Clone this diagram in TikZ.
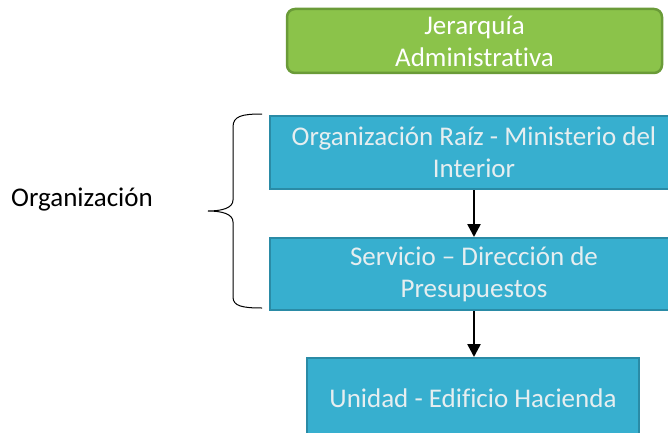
\documentclass[tikz,border=0pt]{standalone}
\usepackage{fontspec}
\setmainfont[Ligatures=NoCommon]{Carlito}
\usetikzlibrary{arrows.meta}
\definecolor{boxblue}{HTML}{37AFCF}
\definecolor{boxblueb}{HTML}{2A8BA6}
\definecolor{boxgreen}{HTML}{8BC34A}
\definecolor{boxgreenb}{HTML}{6A9B38}
\definecolor{txtlight}{HTML}{E6EEF0}
\tikzset{
  bluebox/.style={draw=boxblueb, line width=2pt, fill=boxblue, text=txtlight,
    align=center, font=\fontsize{27}{32}\selectfont, inner sep=0pt},
  greenbox/.style={draw=boxgreenb, line width=2.5pt, fill=boxgreen, text=white,
    align=center, font=\fontsize{27}{32}\selectfont, rounded corners=8pt, inner sep=0pt},
  conn/.style={line width=2.5pt, -{Triangle[width=13pt,length=13pt]}}
}
\begin{document}
\begin{tikzpicture}[x=1pt,y=1pt]
\useasboundingbox (0,0) rectangle (668,432);
\clip (0,0) rectangle (668,432);
\node[greenbox, minimum width=375pt, minimum height=64pt] (jer) at (474.5,391) {Jerarquía\\Administrativa};
\node[bluebox, minimum width=408pt, minimum height=73pt] (raiz) at (474,279.5) {Organización Raíz - Ministerio del\\Interior};
\node[bluebox, minimum width=408pt, minimum height=72pt] (serv) at (474,158) {Servicio – Dirección de\\Presupuestos};
\node[bluebox, minimum width=332pt, minimum height=80pt] (unid) at (473,34) {Unidad - Edificio Hacienda};
\node[font=\fontsize{27}{32}\selectfont, anchor=center] (org) at (82,232) {Organización};
\draw[conn] (raiz.south) -- (serv.north);
\draw[conn] (serv.south) -- (serv.south |- unid.north);
\draw[line width=1pt] (262,318) .. controls (242,318) and (233,316) .. (233,305) -- (233,232)
  .. controls (233,224) and (222,221) .. (208,221)
  .. controls (222,221) and (233,218) .. (233,210) -- (233,135)
  .. controls (233,126) and (242,124) .. (262,124);
\end{tikzpicture}
\end{document}
